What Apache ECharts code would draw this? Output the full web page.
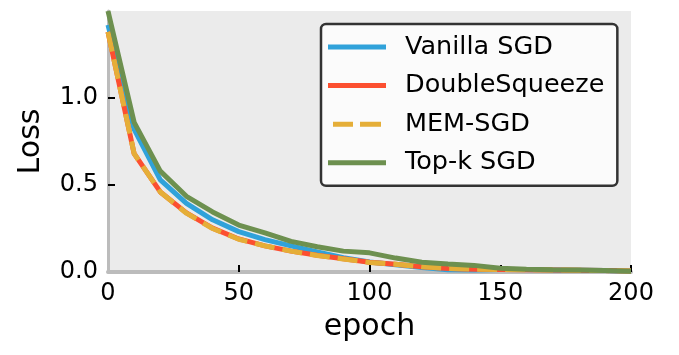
<!DOCTYPE html>
<html>
<head>
<meta charset="utf-8">
<script src="https://cdn.jsdelivr.net/npm/echarts@6/dist/echarts.min.js"></script>
<style>
html,body{margin:0;padding:0;background:#fff;}
#chart{width:679px;height:355px;}
</style>
</head>
<body>
<div id="chart"></div>
<script>
// ---- data ----
var epochs = [0,10,20,30,40,50,60,70,80,90,100,110,120,130,140,150,160,170,180,190,200];
var vanillaSGD    = [1.42,0.82,0.53,0.395,0.30,0.232,0.186,0.150,0.115,0.082,0.058,0.042,0.026,0.013,0.011,0.015,0.014,0.012,0.010,0.008,0.005];
var doubleSqueeze = [1.38,0.68,0.46,0.340,0.252,0.190,0.150,0.120,0.096,0.076,0.056,0.045,0.030,0.020,0.016,0.014,0.013,0.012,0.010,0.008,0.006];
var memSGD        = [1.38,0.68,0.46,0.338,0.250,0.188,0.150,0.120,0.095,0.075,0.055,0.045,0.030,0.021,0.016,0.014,0.013,0.012,0.010,0.008,0.006];
var topkSGD       = [1.50,0.86,0.58,0.435,0.345,0.270,0.225,0.176,0.145,0.120,0.110,0.080,0.056,0.046,0.038,0.022,0.016,0.013,0.011,0.009,0.005];
var seriesNames = ['Vanilla SGD','DoubleSqueeze','MEM-SGD','Top-k SGD'];
var xTicks = [0,50,100,150,200];
var yTicks = [0,0.5,1.0];

function pairs(arr){ return epochs.map(function(e,i){ return [e, arr[i]]; }); }

var colors = ['#30a2da','#fc4f30','#e5ae38','#6d904f'];
var FONT = 'DejaVu Sans';

var chart = echarts.init(document.getElementById('chart'), null, {renderer:'canvas'});
chart.setOption({
  animation:false,
  color: colors,
  grid:{left:108, right:48, top:11, bottom:83, show:true, backgroundColor:'#ebebeb', borderWidth:0},
  legend:{
    orient:'vertical', left:321, top:24,
    backgroundColor:'#fbfbfb', borderColor:'#333333', borderWidth:2.5, borderRadius:5,
    padding:[10,13,10,7],
    itemWidth:58, itemHeight:5, itemGap:12.6,
    textStyle:{fontFamily:FONT, fontSize:25.5, color:'#000', lineHeight:26, padding:[0,0,0,14]},
    data:[
      {name:seriesNames[0], icon:'rect'},
      {name:seriesNames[1], icon:'rect'},
      {name:seriesNames[2], icon:'path://M0,0H20V5H0Z M27,0H48V5H27Z'},
      {name:seriesNames[3], icon:'rect'}
    ]
  },
  xAxis:{
    type:'value', min:0, max:200, interval:50,
    name:'epoch', nameLocation:'middle', nameGap:40,
    nameTextStyle:{fontFamily:FONT, fontSize:30, color:'#000'},
    axisLine:{show:true, onZero:false, lineStyle:{color:'#bcbcbc', width:4}},
    axisTick:{show:true, inside:true, length:7, lineStyle:{color:'#000', width:2}, customValues:[50,100,150,200]},
    axisLabel:{fontFamily:FONT, fontSize:24, color:'#000', margin:10, customValues:xTicks},
    splitLine:{show:false}
  },
  yAxis:{
    type:'value', min:0, max:1.5, interval:0.5,
    name:'Loss', nameLocation:'middle', nameGap:62,
    nameTextStyle:{fontFamily:FONT, fontSize:30, color:'#000'},
    axisLine:{show:true, onZero:false, lineStyle:{color:'#bcbcbc', width:3}},
    axisTick:{show:true, inside:true, length:7, lineStyle:{color:'#000', width:2}, customValues:[0.5,1.0]},
    axisLabel:{fontFamily:FONT, fontSize:24, color:'#000', margin:10, customValues:yTicks,
      formatter:function(v){ return v.toFixed(1); }},
    splitLine:{show:false}
  },
  series:[
    {name:seriesNames[0], type:'line', data:pairs(vanillaSGD), symbol:'none', lineStyle:{width:5, color:colors[0]}},
    {name:seriesNames[1], type:'line', data:pairs(doubleSqueeze), symbol:'none', lineStyle:{width:5, color:colors[1]}},
    {name:seriesNames[2], type:'line', data:pairs(memSGD), symbol:'none', lineStyle:{width:5, color:colors[2], type:[20,8], cap:'butt'}},
    {name:seriesNames[3], type:'line', data:pairs(topkSGD), symbol:'none', lineStyle:{width:5, color:colors[3]}}
  ]
});
</script>
</body>
</html>
